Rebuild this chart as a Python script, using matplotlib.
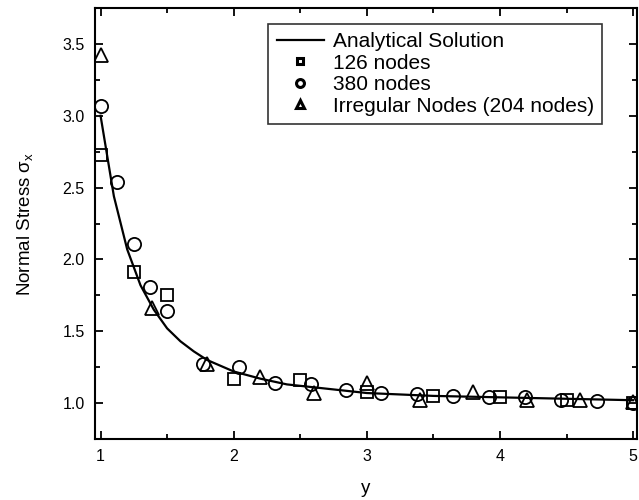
import matplotlib
matplotlib.use("Agg")
import matplotlib.pyplot as plt
from matplotlib.ticker import MultipleLocator

plt.rcParams['font.family'] = ['Liberation Sans', 'DejaVu Sans']
plt.rcParams['mathtext.default'] = 'regular'

######################## data ########################
# analytical solution (sampled)
y_an = [1.0, 1.1, 1.2, 1.3, 1.4, 1.5, 1.6, 1.7, 1.8, 2.0, 2.2, 2.4, 2.6, 2.8,
        3.0, 3.5, 4.0, 4.5, 5.0]
s_an = [3.0, 2.44, 2.07, 1.82, 1.65, 1.52, 1.43, 1.36, 1.30, 1.22, 1.17, 1.13,
        1.11, 1.09, 1.07, 1.05, 1.04, 1.03, 1.02]

# 126 nodes
y_126 = [1.0, 1.25, 1.5, 2.0, 2.5, 3.0, 3.5, 4.0, 4.5, 5.0]
s_126 = [2.73, 1.91, 1.75, 1.17, 1.16, 1.08, 1.05, 1.04, 1.02, 1.0]

# 380 nodes
y_380 = [1.0, 1.125, 1.25, 1.375, 1.5, 1.77, 2.04, 2.31, 2.58, 2.84, 3.11,
         3.38, 3.65, 3.92, 4.19, 4.46, 4.73, 5.0]
s_380 = [3.07, 2.54, 2.11, 1.81, 1.64, 1.27, 1.25, 1.14, 1.13, 1.09, 1.07,
         1.06, 1.05, 1.04, 1.04, 1.02, 1.015, 1.0]

# irregular nodes (204 nodes)
y_irr = [1.0, 1.39, 1.8, 2.2, 2.6, 3.0, 3.4, 3.8, 4.2, 4.6, 5.0]
s_irr = [3.42, 1.66, 1.27, 1.18, 1.07, 1.14, 1.02, 1.08, 1.02, 1.02, 1.005]

######################## figure ########################
fig = plt.figure(figsize=(6.39, 5.0), dpi=100)
ax = fig.add_axes([0.148, 0.122, 0.849, 0.862])

mk = dict(linestyle='none', markerfacecolor='none', markeredgecolor='black',
          markeredgewidth=1.3)

ax.plot(y_an, s_an, color='black', linewidth=1.6, label='Analytical Solution')
ax.plot(y_126, s_126, marker='s', markersize=8, label='126 nodes', **mk)
ax.plot(y_380, s_380, marker='o', markersize=9.5, label='380 nodes', **mk)
ax.plot(y_irr, s_irr, marker='^', markersize=9.5,
        label='Irregular Nodes (204 nodes)', **mk)

ax.set_xlim(0.955, 5.03)
ax.set_ylim(0.75, 3.75)
ax.xaxis.set_major_locator(MultipleLocator(1))
ax.xaxis.set_minor_locator(MultipleLocator(0.5))
ax.yaxis.set_major_locator(MultipleLocator(0.5))
ax.yaxis.set_minor_locator(MultipleLocator(0.25))
ax.tick_params(which='both', direction='in', top=True, right=True,
               labelsize=11.5, width=1.3)
ax.tick_params(which='major', length=5.5, pad=7)
ax.tick_params(which='minor', length=3.5)
for sp in ax.spines.values():
    sp.set_linewidth(1.5)

ax.set_xlabel('y', fontsize=13.5, labelpad=12)
ax.set_ylabel('Normal Stress σ$_x$', fontsize=13.5, labelpad=20)

leg = ax.legend(loc='upper left', bbox_to_anchor=(0.32, 0.963), fontsize=15,
                frameon=True, fancybox=False, edgecolor='black',
                handlelength=2.3, handletextpad=0.4, borderpad=0.4,
                borderaxespad=0, labelspacing=0.12, markerscale=0.6)
leg.get_frame().set_linewidth(1.2)
for h in leg.legend_handles[1:]:
    h.set_markeredgewidth(2.2)

fig.savefig('out.png', dpi=100)
